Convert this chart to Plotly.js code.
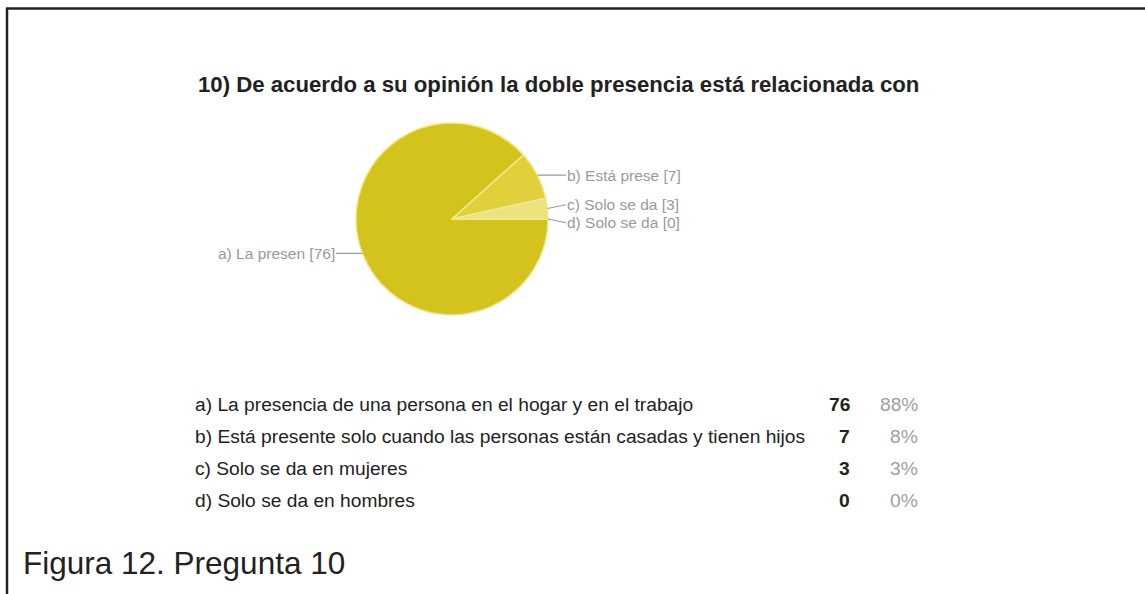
<!DOCTYPE html>
<html>
<head>
<meta charset="utf-8">
<script src="https://cdn.plot.ly/plotly-3.0.1.min.js"></script>
<style>html,body{margin:0;padding:0;background:#fff;}#chart{width:1145px;height:594px;}</style>
</head>
<body>
<div id="chart"></div>
<script>
// ---- data ----
var title = "10) De acuerdo a su opinión la doble presencia está relacionada con";
var caption = "Figura 12. Pregunta 10";
var fullLabels = [
  "a) La presencia de una persona en el hogar y en el trabajo",
  "b) Está presente solo cuando las personas están casadas y tienen hijos",
  "c) Solo se da en mujeres",
  "d) Solo se da en hombres"
];
var shortLabels = ["a) La presen", "b) Está prese", "c) Solo se da", "d) Solo se da"];
var counts = [76, 7, 3, 0];
var sliceColors = ["#d5c31d", "#e1d03b", "#ece280", "#f3ecb2"];

// ---- layout helpers ----
var W = 1145, H = 594;
var cx = 452, cy = 219, R = 96;
var FONT = "Liberation Sans, Arial, sans-serif";
function px(x){ return x / W; }
function py(y){ return 1 - y / H; }
var total = counts.reduce(function(a,b){return a+b;}, 0);

var pie = {
  type: "pie",
  values: counts,
  labels: shortLabels,
  sort: false,
  direction: "clockwise",
  rotation: 90,
  textinfo: "none",
  hoverinfo: "label+value+percent",
  marker: { colors: sliceColors, line: { color: "#f1e98f", width: 1.5 } },
  domain: { x: [px(cx - R), px(cx + R)], y: [py(cy + R), py(cy - R)] },
  showlegend: false
};

// compute leader label positions from the slice angles
var cum = 0, items = [];
for (var i = 0; i < counts.length; i++) {
  var mid = (cum + counts[i] / 2) / total * 360; // degrees clockwise from 3 o'clock
  cum += counts[i];
  var th = mid * Math.PI / 180;
  var ex = cx + R * Math.cos(th), ey = cy + R * Math.sin(th);
  items.push({ i: i, ex: ex, ey: ey, ly: ey, left: Math.cos(th) < 0 });
}
// spread right-side labels that are too close (symmetric push)
var GAP = 18;
var right = items.filter(function(d){ return !d.left; }).sort(function(a,b){ return a.ly - b.ly; });
for (var k = 1; k < right.length; k++) {
  var a = right[k-1], b = right[k];
  if (b.ly - a.ly < GAP) {
    var m = (a.ly + b.ly) / 2;
    a.ly = m - GAP / 2; b.ly = m + GAP / 2;
  }
}

var annotations = [];
items.forEach(function(d){
  var tailX = d.left ? cx - R - 20 : cx + R + 18;
  annotations.push({
    x: px(d.ex), y: py(d.ey), xref: "paper", yref: "paper",
    ax: tailX - d.ex, ay: d.ly - d.ey,
    showarrow: true, arrowhead: 0, arrowwidth: 1.2, arrowcolor: "#9a9a9a", standoff: 0,
    text: shortLabels[d.i] + " [" + counts[d.i] + "]",
    xanchor: d.left ? "right" : "left", yanchor: "middle", borderpad: 0,
    font: { family: FONT, size: 15.5, color: "#9a9a9a" }
  });
});

// summary table rows
var rowY0 = 404, rowStep = 32.3;
for (var j = 0; j < fullLabels.length; j++) {
  var yy = py(rowY0 + j * rowStep);
  annotations.push({ x: px(193), y: yy, xref: "paper", yref: "paper", showarrow: false,
    xanchor: "left", yanchor: "middle", text: fullLabels[j],
    font: { family: FONT, size: 19.2, color: "#222" } });
  annotations.push({ x: px(852), y: yy, xref: "paper", yref: "paper", showarrow: false,
    xanchor: "right", yanchor: "middle", text: "<b>" + counts[j] + "</b>",
    font: { family: FONT, size: 19.2, color: "#222" } });
  annotations.push({ x: px(920), y: yy, xref: "paper", yref: "paper", showarrow: false,
    xanchor: "right", yanchor: "middle", text: Math.round(counts[j] / total * 100) + "%",
    font: { family: FONT, size: 19.2, color: "#a0a0a0" } });
}

// caption
annotations.push({ x: px(21), y: py(563), xref: "paper", yref: "paper", showarrow: false,
  xanchor: "left", yanchor: "middle", text: caption,
  font: { family: FONT, size: 31.5, color: "#222" } });

var layout = {
  width: W, height: H,
  margin: { l: 0, r: 0, t: 0, b: 0 },
  paper_bgcolor: "#fff", plot_bgcolor: "#fff",
  title: { text: "<b>" + title + "</b>", x: px(198), xanchor: "left", xref: "paper",
    y: py(84), yanchor: "middle", yref: "paper",
    font: { family: FONT, size: 22.2, color: "#222" } },
  annotations: annotations,
  shapes: [
    { type: "line", xref: "paper", yref: "paper", x0: px(6), x1: 1, y0: py(8.5), y1: py(8.5),
      line: { color: "#222", width: 2.5 } },
    { type: "line", xref: "paper", yref: "paper", x0: px(7), x1: px(7), y0: py(8), y1: 0,
      line: { color: "#222", width: 2.5 } }
  ]
};

Plotly.newPlot("chart", [pie], layout, { displayModeBar: false, staticPlot: true });
</script>
</body>
</html>
